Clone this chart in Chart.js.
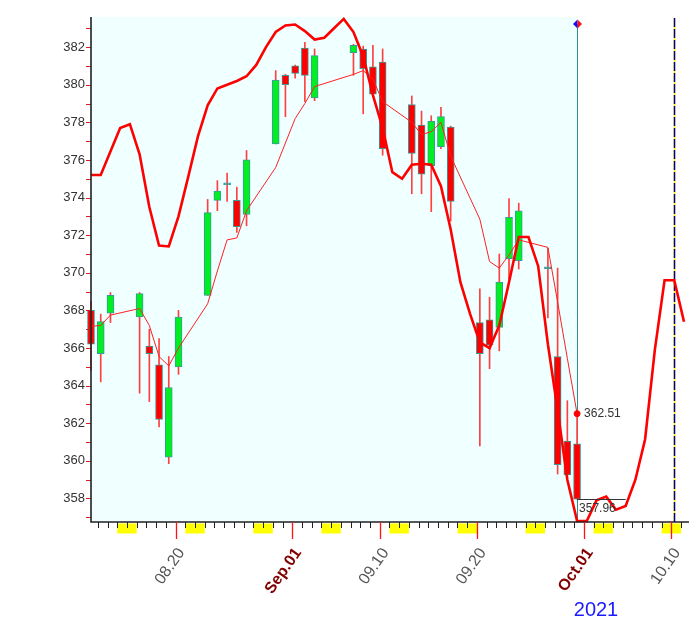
<!DOCTYPE html>
<html>
<head>
<meta charset="utf-8">
<script src="https://cdn.jsdelivr.net/npm/chart.js@4/dist/chart.umd.min.js"></script>
<style>
html,body{margin:0;padding:0;background:#ffffff;}
canvas{display:block;}
</style>
</head>
<body>
<canvas id="c" width="689" height="632"></canvas>
<script>
// ---- Data (x = calendar day offset from 2021-08-11) ----
const candleDays = [0,1,2,5,6,7,8,9,12,13,14,15,16,19,20,21,22,23,27,28,29,30,33,34,35,36,37,40,41,42,43,44,47,48,49,50];
const opens  = [368.0,365.7,367.85,367.65,366.1,365.1,360.2,365.0,368.8,373.85,374.68,373.85,373.1,376.85,380.5,381.0,381.95,379.3,381.7,381.9,380.95,381.2,378.95,377.85,375.7,376.7,377.75,367.35,367.5,367.1,370.75,370.65,370.22,365.55,361.05,360.9];
const highs  = [368.5,367.8,368.95,368.95,367.0,366.5,365.55,368.0,373.9,374.9,375.3,374.55,376.5,380.75,380.55,381.05,382.25,381.9,382.15,382.05,382.1,381.9,379.4,378.6,378.35,378.8,377.8,369.15,368.7,371.0,373.95,373.7,371.3,370.25,363.2,362.55];
const lows   = [364.8,364.2,367.35,363.6,363.15,361.8,359.85,364.6,368.8,373.3,373.8,372.15,372.5,376.85,378.3,380.35,379.1,379.15,380.5,378.45,379.4,376.25,374.2,374.2,373.25,376.6,372.75,360.8,364.9,365.85,369.65,370.2,367.6,359.3,359.2,357.96];
const closes = [366.2,367.4,368.8,368.9,365.7,362.2,363.9,367.65,373.2,374.35,374.78,372.45,376.0,380.25,380.0,380.6,380.5,381.55,382.1,380.85,379.5,376.6,376.35,375.25,378.05,378.3,373.8,365.7,366.15,369.5,372.95,373.3,370.32,359.8,359.25,357.96];
const maValues = [367.15,367.2,367.75,368.1,367.2,365.55,365.05,366.0,368.35,370.1,371.75,371.85,373.3,375.6,376.9,378.2,379.0,379.9,380.55,380.75,380.3,379.1,378.0,377.35,377.5,378.0,376.2,372.85,370.6,370.25,370.95,371.75,371.35,368.45,365.45,362.51];
const cycleDays   = [0,1,3,4,5,6,7,8,9,10,11,12,13,14,15,16,17,18,19,20,21,22,23,24,25,26,27,28,29,30,31,32,33,34,35,36,37,38,39,40,41,42,43,44,45,46,47,48,49,50,51,52,53,54,55,56,57,58,59,60,61,62];
const cycleValues = [375.2,375.2,377.7,377.9,376.3,373.5,371.45,371.4,373.0,375.1,377.25,378.9,379.8,380.0,380.2,380.45,381.05,382.0,382.8,383.15,383.2,382.85,382.4,382.5,383.0,383.5,382.8,381.5,379.45,377.7,375.35,375.0,375.75,375.8,375.75,374.6,372.3,369.5,367.8,366.3,366.0,367.2,369.5,371.9,371.9,370.35,366.2,362.7,359.0,356.8,356.8,357.9,358.1,357.4,357.6,359.0,361.15,365.9,369.6,369.6,367.4,364.7];
const tickLabelDays = [9,21,30,40,51,60];
const tickLabels = ['08.20','Sep.01','09.10','09.20','Oct.01','10.10'];
const tickLabelIsMonth = [false,true,false,false,true,false];
const yearLabel = '2021';
const lastDay = 50;          // last traded day (2021-09-30)
const markerDay = 60;        // dashed marker (2021-10-10)
const lastClose = 357.96;
const lastMA = 362.51;
const firstWeekday = 3;      // 2021-08-11 is a Wednesday
const xMaxDay = 61.0;

// ---- Build datasets ----
const bodies = candleDays.map((d,i)=>({x:d, y:[opens[i], closes[i]]}));
const wicks  = candleDays.map((d,i)=>({x:d, y:[lows[i], highs[i]]}));
const maPts  = candleDays.map((d,i)=>({x:d, y:maValues[i]}));
const cyclePts = cycleDays.map((d,i)=>({x:d, y:cycleValues[i]}));
const bodyColors = candleDays.map((d,i)=>{
  const diff = closes[i]-opens[i];
  if (Math.abs(diff) < 0.15) return '#2f9c9c';
  return diff > 0 ? '#00ee22' : '#ff0000';
});

const FONT = "'Liberation Sans', Arial, sans-serif";

const backgroundPlugin = {
  id:'bgp',
  beforeDraw(chart){
    const {ctx, chartArea:a, scales:{x}} = chart;
    ctx.save();
    ctx.fillStyle = '#ffffff';
    ctx.fillRect(0,0,chart.width,chart.height);
    ctx.fillStyle = '#f0ffff';
    const xr = x.getPixelForValue(lastDay);
    ctx.fillRect(a.left, a.top, xr - a.left, a.bottom - a.top);
    ctx.restore();
  },
  beforeDatasetsDraw(chart){
    const {ctx, chartArea:a, scales:{x}} = chart;
    const xr = Math.round(x.getPixelForValue(lastDay)) + 0.5;
    ctx.save();
    ctx.strokeStyle = '#2f8f8f';
    ctx.lineWidth = 1;
    ctx.beginPath(); ctx.moveTo(xr, a.top + 7); ctx.lineTo(xr, a.bottom); ctx.stroke();
    // dashed marker line
    const xm = Math.round(x.getPixelForValue(markerDay)) + 0.5;
    ctx.strokeStyle = '#ffee00';
    ctx.lineWidth = 1.5;
    ctx.beginPath(); ctx.moveTo(xm, a.top + 1); ctx.lineTo(xm, a.bottom); ctx.stroke();
    ctx.strokeStyle = '#000080';
    ctx.setLineDash([9,2]);
    ctx.beginPath(); ctx.moveTo(xm, a.top + 1); ctx.lineTo(xm, a.bottom); ctx.stroke();
    ctx.setLineDash([]);
    ctx.restore();
  },
  afterDatasetsDraw(chart){
    const {ctx, chartArea:a, scales:{x,y}} = chart;
    ctx.save();
    // last close line + labels
    const xr = x.getPixelForValue(lastDay);
    const yc = Math.round(y.getPixelForValue(lastClose)) + 0.5;
    ctx.strokeStyle = '#333333'; ctx.lineWidth = 1;
    ctx.beginPath(); ctx.moveTo(xr, yc); ctx.lineTo(x.getPixelForValue(lastDay + 5), yc); ctx.stroke();
    ctx.fillStyle = '#333333';
    ctx.font = '12px ' + FONT;
    ctx.textAlign = 'left'; ctx.textBaseline = 'top';
    ctx.fillText(lastClose.toFixed(2), xr + 2, yc + 3);
    ctx.textBaseline = 'middle';
    ctx.fillText(lastMA.toFixed(2), xr + 7, y.getPixelForValue(lastMA));
    // diamond
    const dx = Math.round(xr) + 0.5, dy = a.top + 7;
    ctx.fillStyle = '#1010ff';
    ctx.beginPath(); ctx.moveTo(dx, dy-4.5); ctx.lineTo(dx-4.5, dy); ctx.lineTo(dx, dy+4.5); ctx.closePath(); ctx.fill();
    ctx.fillStyle = '#ff1010';
    ctx.beginPath(); ctx.moveTo(dx, dy-4.5); ctx.lineTo(dx+4.5, dy); ctx.lineTo(dx, dy+4.5); ctx.closePath(); ctx.fill();

    // y axis minor ticks
    ctx.strokeStyle = '#cc2222'; ctx.lineWidth = 1;
    for (let v = Math.ceil(y.min); v <= y.max; v++) {
      const py = Math.round(y.getPixelForValue(v)) + 0.5;
      ctx.beginPath(); ctx.moveTo(a.left - 5, py); ctx.lineTo(a.left, py); ctx.stroke();
    }
    // axes lines
    ctx.strokeStyle = '#222222'; ctx.lineWidth = 1.6;
    ctx.beginPath(); ctx.moveTo(a.left, a.top); ctx.lineTo(a.left, a.bottom); ctx.lineTo(chart.width, a.bottom); ctx.stroke();

    // weekend blocks & day ticks
    const bot = a.bottom;
    ctx.fillStyle = '#ffff00';
    for (let d = 0; d <= 63; d++) {
      const wd = (firstWeekday + d) % 7;
      if (wd === 6) {
        const x0 = x.getPixelForValue(d - 0.3), x1 = x.getPixelForValue(d + 1.7);
        ctx.fillRect(x0, bot + 1.5, x1 - x0, 10);
      }
    }
    ctx.strokeStyle = '#222222'; ctx.lineWidth = 1;
    for (let d = 0; d <= 63; d++) {
      const px = Math.round(x.getPixelForValue(d - 0.3)) + 0.5;
      if (px < a.left || px > chart.width) continue;
      ctx.beginPath(); ctx.moveTo(px, bot); ctx.lineTo(px, bot + 6); ctx.stroke();
    }
    ctx.strokeStyle = '#ff1111'; ctx.lineWidth = 1.3;
    tickLabelDays.forEach((d,i)=>{
      const px = Math.round(x.getPixelForValue(d - 0.3)) + 0.5;
      ctx.beginPath(); ctx.moveTo(px, bot); ctx.lineTo(px, bot + 17); ctx.stroke();
    });
    // tick labels
    tickLabelDays.forEach((d,i)=>{
      const px = x.getPixelForValue(d - 0.3);
      ctx.save();
      ctx.translate(px + 6, bot + 28);
      ctx.rotate(-55 * Math.PI / 180);
      ctx.textAlign = 'right'; ctx.textBaseline = 'middle';
      if (tickLabelIsMonth[i]) { ctx.font = 'bold 16px ' + FONT; ctx.fillStyle = '#800000'; }
      else { ctx.font = '16px ' + FONT; ctx.fillStyle = '#555555'; }
      ctx.fillText(tickLabels[i], 0, 0);
      ctx.restore();
    });
    ctx.font = '20px ' + FONT;
    ctx.fillStyle = '#1a1aff';
    ctx.textAlign = 'center'; ctx.textBaseline = 'alphabetic';
    ctx.fillText(yearLabel, 596, 616);
    ctx.restore();
  }
};

new Chart(document.getElementById('c'), {
  type: 'bar',
  data: {
    datasets: [
      { type:'line', label:'cycle', data: cyclePts, borderColor:'#ff0000', borderWidth:2.6, pointRadius:0, tension:0, clip:false, order:1 },
      { type:'line', label:'ma', data: maPts, borderColor:'#ff2020', borderWidth:1, tension:0,
        pointRadius:(c)=> c.dataIndex === maPts.length-1 ? 3 : 0,
        pointBackgroundColor:'#ff0000', pointBorderColor:'#ff0000', order:2 },
      { type:'bar', label:'body', data: bodies, backgroundColor: bodyColors, borderColor:'#3a9a9a', borderWidth:1,
        borderSkipped:false, barThickness:7, grouped:false, clip:false, order:3 },
      { type:'bar', label:'wick', data: wicks, backgroundColor:'#ff4040', borderWidth:0, barThickness:1,
        grouped:false, clip:false, order:4 }
    ]
  },
  options: {
    responsive:false,
    animation:false,
    layout:{ padding:{ top:17, left:0, right:0, bottom:0 } },
    plugins:{ legend:{ display:false }, tooltip:{ enabled:false } },
    scales:{
      x:{ type:'linear', min:0, max:xMaxDay, offset:false,
          grid:{ display:false, drawTicks:false }, border:{ display:false },
          ticks:{ display:false },
          afterFit(s){ s.height = 110; } },
      y:{ type:'linear', min:356.75, max:383.6,
          grid:{ display:false, drawTicks:false }, border:{ display:false },
          ticks:{ stepSize:2, includeBounds:false, padding:6, color:'#333333', font:{ family:FONT, size:13 } },
          afterFit(s){ s.width = 91; } }
    }
  },
  plugins:[backgroundPlugin]
});
</script>
</body>
</html>
